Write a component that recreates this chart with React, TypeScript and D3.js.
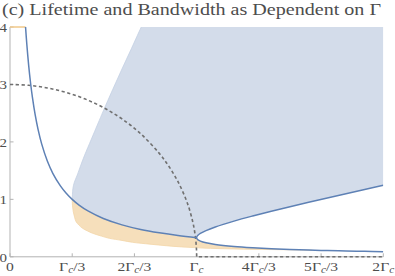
import React from "react";
import * as d3 from "d3";

// x in units of Gamma_c, y in plot units
const xTicks = [0, 1 / 3, 2 / 3, 1, 4 / 3, 5 / 3, 2];
const xTickLabels = ["0", "Γ_c/3", "2Γ_c/3", "Γ_c", "4Γ_c/3", "5Γ_c/3", "2Γ_c"];
const yTicks = [0, 1, 2, 3, 4];

// lifetime below Gamma_c
const tauX = [0.0833, 0.09, 0.1, 0.11, 0.12, 0.135, 0.15, 0.17, 0.2, 0.23, 0.27, 0.3, 0.3333, 0.37, 0.42, 0.5, 0.6, 0.7, 0.8, 0.9, 1.0];
const tauY = [4.0, 3.704, 3.333, 3.03, 2.778, 2.469, 2.222, 1.961, 1.667, 1.449, 1.235, 1.111, 1.0, 0.901, 0.794, 0.667, 0.556, 0.476, 0.417, 0.37, 0.333];

// two lifetimes above Gamma_c
const branchX = [1.0, 1.001, 1.005, 1.01, 1.02, 1.05, 1.1, 1.2, 1.3, 1.4, 1.5, 1.6, 1.7, 1.8, 1.9, 2.0];
const upperY = [0.3333, 0.3486, 0.3684, 0.3839, 0.407, 0.4567, 0.5194, 0.6211, 0.7102, 0.7933, 0.8727, 0.9497, 1.0249, 1.0989, 1.1718, 1.244];
const lowerY = [0.3333, 0.3188, 0.3016, 0.2894, 0.273, 0.2433, 0.2139, 0.1789, 0.1564, 0.1401, 0.1273, 0.117, 0.1084, 0.1011, 0.0948, 0.0893];

// oscillation frequency (dashed)
const omegaX = [0, 0.1, 0.2, 0.3, 0.4, 0.5, 0.6, 0.7, 0.8, 0.85, 0.9, 0.95, 0.98, 0.99, 0.995, 0.999, 1.0];
const omegaY = [3, 2.985, 2.939, 2.862, 2.75, 2.598, 2.4, 2.142, 1.8, 1.58, 1.308, 0.937, 0.597, 0.423, 0.3, 0.134, 0];
const omegaTailX = [1, 2];
const omegaTailY = [0, 0];

// left edge of the blue band
const blueEdgeX = [0.3333, 0.3345, 0.337, 0.345, 0.36, 0.38, 0.4, 0.435, 0.47, 0.5, 0.55, 0.6, 0.65, 0.703];
const blueEdgeY = [1.0, 1.08, 1.19, 1.3, 1.42, 1.6, 1.77, 2.04, 2.31, 2.54, 2.91, 3.27, 3.62, 4.0];

// lower edge of the orange band
const orangeEdgeX = [0.3333, 0.3345, 0.339, 0.346, 0.354, 0.37, 0.389, 0.415, 0.443, 0.49, 0.532, 0.6, 0.657, 0.75, 0.836, 0.92, 0.987, 1.05, 1.15, 1.25, 1.35, 1.45, 1.55, 1.62];
const orangeEdgeY = [1.0, 0.9, 0.785, 0.69, 0.611, 0.55, 0.496, 0.45, 0.409, 0.36, 0.322, 0.285, 0.252, 0.22, 0.193, 0.172, 0.16, 0.15, 0.14, 0.133, 0.128, 0.124, 0.119, 0.114];

const orangeTopX = [0, 0.0833];
const orangeTopY = [4, 4];

const blueLine = "#5e81b5";
const blueFill = "#d3dcea";
const orangeFill = "#f6dfbb";
const textColor = "#4d4d4d";
const axisColor = "#b3b3b3";
const serif = "'Liberation Serif', serif";
const stretch = 1.2; // the source image is wider than tall, glyphs included

type P = [number, number];
const zip = (xs: number[], ys: number[]): P[] => xs.map((v, i) => [v, ys[i]]);

// join path pieces into one outline, keeping corners between pieces
const joinPaths = (parts: string[]) =>
  parts.map((s, i) => (i === 0 ? s : s.replace(/^M/, "L"))).join("") + "Z";

const TickLabel = ({ label, ...rest }: { label: string; [k: string]: any }) => {
  const i = label.indexOf("_c");
  if (i < 0) return <text {...rest}>{label}</text>;
  const before = label.slice(0, i);
  const after = label.slice(i + 2);
  return (
    <text {...rest}>
      <tspan>{before}</tspan>
      <tspan fontStyle="italic" fontSize={9.5} dy={2.5}>c</tspan>
      {after ? <tspan dy={-2.5}>{after}</tspan> : null}
    </text>
  );
};

export default function App() {
  const x = d3.scaleLinear().domain([0, 2]).range([10, 383.3]);
  const y = d3.scaleLinear().domain([0, 4]).range([256.8, 27]);

  const smooth = d3
    .line<P>()
    .x((d) => x(d[0]))
    .y((d) => y(d[1]))
    .curve(d3.curveCatmullRom.alpha(0.5));
  const straight = d3
    .line<P>()
    .x((d) => x(d[0]))
    .y((d) => y(d[1]));

  const tau = zip(tauX, tauY);
  const tauRight = tau.filter((d) => d[0] >= 0.3333);
  const upper = zip(branchX, upperY);
  const lower = zip(branchX, lowerY);
  const blueEdge = zip(blueEdgeX, blueEdgeY);
  const orangeEdge = zip(orangeEdgeX, orangeEdgeY);
  const topLeft = blueEdge[blueEdge.length - 1];
  const upperEnd = upper[upper.length - 1];

  const bluePath = joinPaths([
    smooth(blueEdge) as string,
    straight([topLeft, [2, 4], upperEnd]) as string,
    smooth(upper.slice().reverse()) as string,
    smooth(tauRight.slice().reverse()) as string,
  ]);

  const orangePath = joinPaths([
    smooth(orangeEdge) as string,
    smooth(lower.filter((d) => d[0] <= 1.6).reverse()) as string,
    smooth(tauRight.slice().reverse()) as string,
  ]);

  const branchPath = smooth(lower.slice().reverse().concat(upper.slice(1))) as string;
  const omegaPath =
    (smooth(zip(omegaX, omegaY)) as string) +
    (straight(zip(omegaTailX, omegaTailY)) as string).replace(/^M/, "L");

  return (
    <div style={{ position: "fixed", left: 0, top: 0 }}>
      <svg width={395} height={276} style={{ display: "block", background: "#fff" }}>
        <defs>
          <clipPath id="plot">
            <rect x={x(0)} y={y(4)} width={x(2) - x(0)} height={y(0) - y(4)} />
          </clipPath>
        </defs>

        <text
          x={2}
          y={14.5}
          fontFamily={serif}
          fontSize={16}
          fill={textColor}
          textLength={379}
          lengthAdjust="spacingAndGlyphs"
        >
          (c) Lifetime and Bandwidth as Dependent on Γ
        </text>

        <g clipPath="url(#plot)">
          <path d={bluePath} fill={blueFill} stroke="none" />
          <path d={smooth(blueEdge) as string} fill="none" stroke="#c4d0e3" strokeWidth={0.8} />
          <path d={orangePath} fill={orangeFill} stroke="none" />
          <path d={smooth(orangeEdge) as string} fill="none" stroke="#f2d6a8" strokeWidth={0.8} />
        </g>

        {/* axes */}
        <line x1={x(0)} x2={x(2)} y1={y(0)} y2={y(0)} stroke={axisColor} strokeWidth={1} />
        <line x1={x(0)} x2={x(0)} y1={y(0)} y2={y(4)} stroke={axisColor} strokeWidth={1} />
        {xTicks.map((t, i) => (
          <g key={"xt" + i}>
            <line x1={x(t)} x2={x(t)} y1={y(0)} y2={y(0) - 3.5} stroke={axisColor} />
            <g transform={`translate(${x(t)},270.5) scale(${stretch},1)`}>
              <TickLabel
                label={xTickLabels[i]}
                x={0}
                y={0}
                textAnchor="middle"
                fontFamily={serif}
                fontSize={13}
                fill={textColor}
              />
            </g>
          </g>
        ))}
        {yTicks.map((t) => (
          <g key={"yt" + t}>
            <line x1={x(0)} x2={x(0) + 3.5} y1={y(t)} y2={y(t)} stroke={axisColor} />
            <g transform={`translate(7,${y(t)}) scale(${stretch},1)`}>
              <text
                x={0}
                y={0}
                dy="0.4em"
                textAnchor="end"
                fontFamily={serif}
                fontSize={12.5}
                fill={textColor}
              >
                {t}
              </text>
            </g>
          </g>
        ))}

        <path
          d={straight(zip(orangeTopX, orangeTopY)) as string}
          fill="none"
          stroke="#f0c98a"
          strokeWidth={1.5}
        />

        <path
          d={omegaPath}
          fill="none"
          stroke="#707070"
          strokeWidth={1.6}
          strokeDasharray="3.2,2.6"
        />

        <g clipPath="url(#plot)">
          <path d={smooth(tau) as string} fill="none" stroke={blueLine} strokeWidth={1.5} />
          <path d={branchPath} fill="none" stroke={blueLine} strokeWidth={1.5} />
        </g>
      </svg>
    </div>
  );
}
